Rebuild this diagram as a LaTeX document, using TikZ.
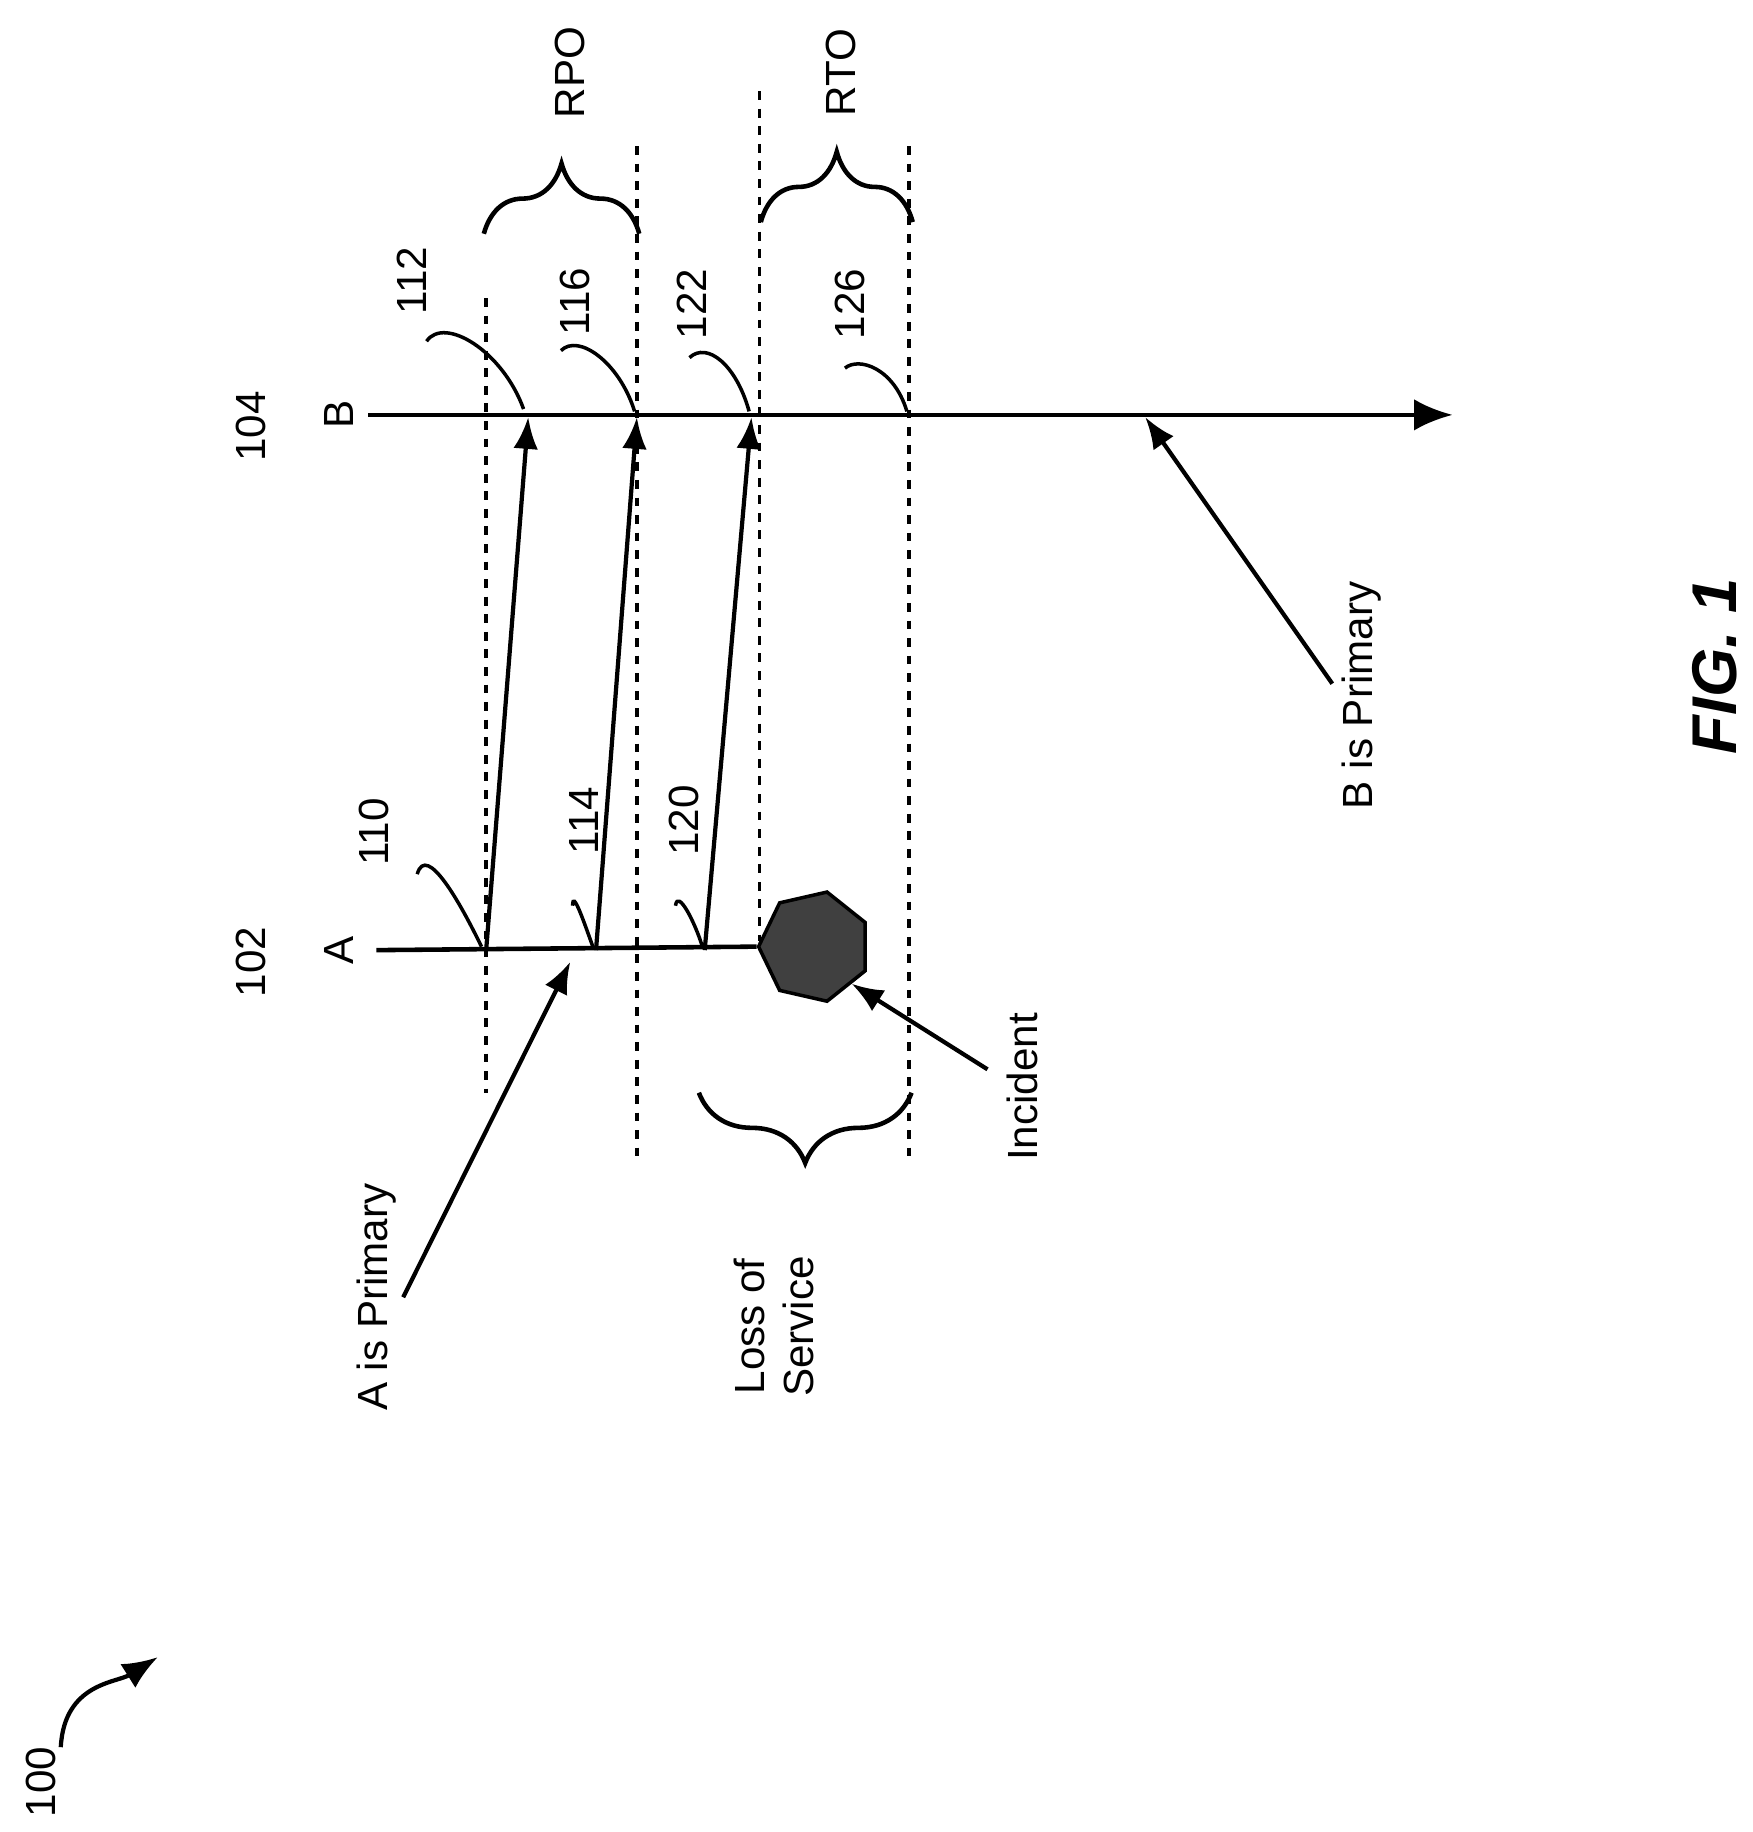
\documentclass[tikz,border=0pt]{standalone}
\usepackage{fontspec}
\setmainfont{Liberation Sans}
\usetikzlibrary{decorations.pathreplacing,shapes.geometric,patterns,arrows.meta}
\begin{document}
\begin{tikzpicture}[x=0.011687cm,y=-0.011687cm,
  lbl/.style={rotate=90,font=\fontsize{12}{14}\selectfont,inner sep=0pt},
  ln/.style={line width=1.3pt},
  dsh/.style={line width=1pt,dash pattern=on 2.5pt off 2.5pt},
  arr/.style={line width=1.2pt,-{Latex[length=9pt,width=7pt]}},
  lead/.style={line width=1pt},
  brc/.style={ln,decorate,decoration={brace,amplitude=20pt,raise=0pt}}]
\useasboundingbox (0,0) rectangle (1500,1567.6);
% timelines
\coordinate (A0) at (322,813);
\node[regular polygon,regular polygon sides=7,shape border rotate=90,minimum size=1.12cm,draw,line width=1pt,fill=black!75,inner sep=0pt] (inc) at (697,810) {};
\coordinate (B0) at (315,355);
\coordinate (B1) at (1243,355);
\draw[ln] (A0) -- (inc.west);
\draw[ln,-{Latex[length=11pt,width=9pt]}] (B0) -- (B1);
\node[lbl] (lA) at (290,813) {A};
\node[lbl] (l102) at (215,823) {102};
\node[lbl] (lB) at (290,355) {B};
\node[lbl] (l104) at (215,365) {104};
% dashed
\draw[dsh] (416,255) -- (416,935);
\draw[dsh] (545,125) -- (545,990);
\draw[dsh] (650,78) -- (650,805);
\draw[dsh] (778,125) -- (778,990);
% braces
\draw[brc] (414,200) -- (547,200);
\node[lbl] (rpo) at (488,62) {RPO};
\draw[brc] (651,190) -- (781,190);
\node[lbl] (rto) at (720,62) {RTO};
\draw[brc,decoration={mirror}] (598,935) -- (780,935);
\node[lbl,align=center] (los) at (662,1135) {Loss of\\Service};
% messages
\coordinate (m110) at (416,813); \coordinate (m112) at (452,357);
\coordinate (m114) at (510,813); \coordinate (m116) at (545,357);
\coordinate (m120) at (603,813); \coordinate (m122) at (643,357);
\draw[arr] (m110) -- (m112);
\draw[arr] (m114) -- (m116);
\draw[arr] (m120) -- (m122);
% callouts
\node[lbl] (t110) at (320,712) {110};
\draw[lead] (357,748) .. controls (365,720) and (395,775) .. (412,810);
\node[lbl] (t112) at (352,240) {112};
\draw[lead] (365,292) .. controls (380,270) and (430,300) .. (448,350);
\node[lbl] (t114) at (500,702) {114};
\draw[lead] (490,775) .. controls (490,760) and (500,790) .. (508,812);
\node[lbl] (t116) at (492,258) {116};
\draw[lead] (480,300) .. controls (495,285) and (530,310) .. (543,352);
\node[lbl] (t120) at (585,702) {120};
\draw[lead] (578,775) .. controls (580,760) and (595,790) .. (601,810);
\node[lbl] (t122) at (592,260) {122};
\draw[lead] (590,306) .. controls (605,292) and (630,312) .. (641,352);
\node[lbl] (t126) at (727,260) {126};
\draw[lead] (723,315) .. controls (735,305) and (765,315) .. (776,352);
% labels with arrows
\node[lbl] (aprim) at (322,1110) {A is Primary};
\coordinate (aT) at (488,823);
\draw[arr] (345,1110) -- (aT);
\node[lbl] (incl) at (875,930) {Incident};
\draw[arr] (845,915) -- (inc.south east);
\node[lbl] (bprim) at (1165,595) {B is Primary};
\coordinate (bT) at (980,357);
\draw[arr] (1140,585) -- (bT);
\node[lbl] (l100) at (35,1525) {100};
\draw[line width=1.2pt,-{Latex[length=10pt,width=8pt]}] (52,1495) .. controls (55,1440) and (100,1440) .. (135,1418);
\node[lbl,font=\bfseries\itshape\fontsize{18}{20}\selectfont] (fig) at (1467,570) {FIG. 1};
\end{tikzpicture}
\end{document}
